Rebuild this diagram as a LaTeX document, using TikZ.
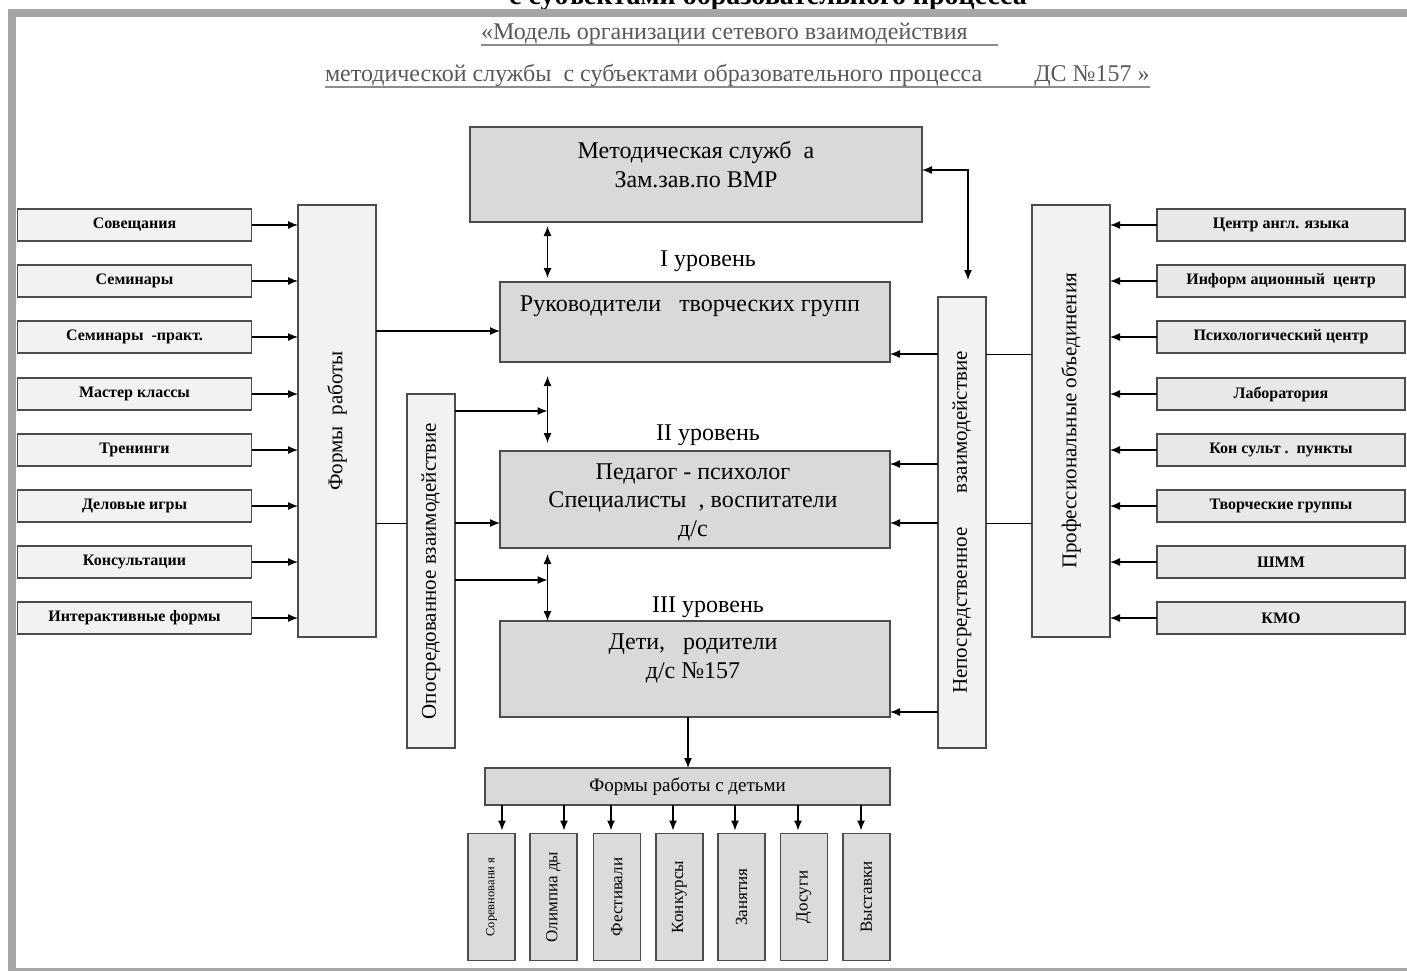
\documentclass[tikz,border=0pt]{standalone}
\usepackage{fontspec}
\setmainfont{Liberation Serif}
\usepackage{graphicx}
\usetikzlibrary{arrows.meta}
\begin{document}
\begin{tikzpicture}[x=1pt, y=-1pt, line width=1.3pt, >={Latex[length=10pt, width=8pt]},
        every node/.style={inner sep=0pt, outer sep=0pt},
        mainbox/.style={draw=black!70, fill=gray!30},
        sidebox/.style={draw=black!70, fill=gray!10, minimum width=234, minimum height=32, font=\fontsize{16}{18}\selectfont\bfseries},
        rightbox/.style={draw=black!70, fill=gray!18, minimum width=248, minimum height=32, font=\fontsize{16}{18}\selectfont\bfseries},
        tallbox/.style={draw=black!70, fill=gray!10, font=\fontsize{21}{24}\selectfont},
        kidbox/.style={draw=black!70, fill=gray!28, minimum width=47, minimum height=127, font=\fontsize{17}{19}\selectfont},
        maintext/.style={align=center, font=\fontsize{24}{29}\selectfont},
        level/.style={font=\fontsize{24}{26}\selectfont},
        header/.style={anchor=base west, text=black!65, font=\fontsize{24}{26}\selectfont},
        uline/.style={draw=black!45, line width=1.6pt}]

        \useasboundingbox (0,0) rectangle (1407,971);

        \node (t0) at (768,5) [anchor=base, font=\fontsize{28}{30}\selectfont\bfseries] {с субъектами образовательного процесса};
        \fill [gray!70] (8,9) rectangle (1407,17);
        \fill [gray!70] (8,9) rectangle (16,971);
        \fill [gray!70] (16,968) rectangle (1407,971);

        \node (h1) at (481,40) [header] {«Модель организации сетевого взаимодействия\hspace*{30pt}};
        \draw [uline] ([yshift=-5pt]h1.base west) -- ([yshift=-5pt]h1.base east);
        \node (h2) at (325,82) [header] {методической службы\ \ с субъектами образовательного процесса\hspace*{52pt}ДС №157 »};
        \draw [uline] ([yshift=-5pt]h2.base west) -- ([yshift=-5pt]h2.base east);

        \node (n1) at (696,174.5) [mainbox, minimum width=452, minimum height=95] {};
        \node (t1) at (696,165) [maintext] {Методическая служб\ \ а\\Зам.зав.по ВМР};

        \node (L1) at (708,261) [level] {I уровень};
        \node (n2) at (695,322) [mainbox, minimum width=390, minimum height=80] {};
        \node (t2) at (690,306) [maintext] {Руководители\ \ \ творческих групп};

        \node (L2) at (708,435) [level] {II уровень};
        \node (n3) at (695,499.5) [mainbox, minimum width=390, minimum height=97] {};
        \node (t3) at (693,502) [maintext, font=\fontsize{24}{28.5}\selectfont] {Педагог - психолог\\Специалисты\ \ , воспитатели\\д/с};

        \node (L3) at (708,607) [level] {III уровень};
        \node (n4) at (695,669) [mainbox, minimum width=390, minimum height=96] {};
        \node (t4) at (693,658.5) [maintext] {Дети,\ \ \ родители\\д/с №157};

        \node (n5) at (687.5,786.5) [mainbox, minimum width=405, minimum height=37, font=\fontsize{19}{21}\selectfont] {Формы работы с детьми};

        \node (f1) at (337,421) [tallbox, minimum width=78, minimum height=432] {\rotatebox{90}{Формы\ \ работы}};
        \node (o1) at (431,571) [tallbox, minimum width=48, minimum height=354] {\rotatebox{90}{Опосредованное взаимодействие}};
        \node (m1) at (962,522.5) [tallbox, minimum width=48, minimum height=451] {\rotatebox{90}{Непосредственное\hspace{34pt}взаимодействие}};
        \node (p1) at (1071,421) [tallbox, minimum width=78, minimum height=432] {\rotatebox{90}{Профессиональные объединения}};

        \node (l1) at (134.5,225) [sidebox] {Совещания};
        \node (l2) at (134.5,281) [sidebox] {Семинары};
        \node (l3) at (134.5,337) [sidebox] {Семинары\ \ -практ.};
        \node (l4) at (134.5,394) [sidebox] {Мастер классы};
        \node (l5) at (134.5,450) [sidebox] {Тренинги};
        \node (l6) at (134.5,506) [sidebox] {Деловые игры};
        \node (l7) at (134.5,562) [sidebox] {Консультации};
        \node (l8) at (134.5,618) [sidebox] {Интерактивные формы};

        \node (r1) at (1281,225) [rightbox] {Центр англ. языка};
        \node (r2) at (1281,281) [rightbox] {Информ ационный\ \ центр};
        \node (r3) at (1281,337) [rightbox] {Психологический центр};
        \node (r4) at (1281,394) [rightbox] {Лаборатория};
        \node (r5) at (1281,450) [rightbox] {Кон сульт .\ \ пункты};
        \node (r6) at (1281,506) [rightbox] {Творческие группы};
        \node (r7) at (1281,562) [rightbox] {ШММ};
        \node (r8) at (1281,618) [rightbox] {КМО};

        \node (b1) at (491.5,897) [kidbox, font=\fontsize{12.5}{14}\selectfont] {\rotatebox{90}{Соревновани я}};
        \node (b2) at (553.5,897) [kidbox] {\rotatebox{90}{Олимпиа ды}};
        \node (b3) at (617,897) [kidbox] {\rotatebox{90}{Фестивали}};
        \node (b4) at (679.5,897) [kidbox] {\rotatebox{90}{Конкурсы}};
        \node (b5) at (741.5,897) [kidbox] {\rotatebox{90}{Занятия}};
        \node (b6) at (804,897) [kidbox] {\rotatebox{90}{Досуги}};
        \node (b7) at (866.5,897) [kidbox] {\rotatebox{90}{Выставки}};

        \coordinate (v1) at (547.5,0);
        \coordinate (c1) at (0,331);
        \coordinate (c2) at (0,523);
        \coordinate (c3) at (0,411);
        \coordinate (c4) at (0,580);
        \coordinate (c5) at (0,354);
        \coordinate (c6) at (0,464);
        \coordinate (c7) at (0,712);
        \coordinate (c8) at (0,170);
        \coordinate (c9) at (968,280);
        \coordinate (c10) at (688,0);

        \draw [->] (l1) -- (f1.west |- l1);
        \draw [->] (l2) -- (f1.west |- l2);
        \draw [->] (l3) -- (f1.west |- l3);
        \draw [->] (l4) -- (f1.west |- l4);
        \draw [->] (l5) -- (f1.west |- l5);
        \draw [->] (l6) -- (f1.west |- l6);
        \draw [->] (l7) -- (f1.west |- l7);
        \draw [->] (l8) -- (f1.west |- l8);

        \draw [->] (r1) -- (p1.east |- r1);
        \draw [->] (r2) -- (p1.east |- r2);
        \draw [->] (r3) -- (p1.east |- r3);
        \draw [->] (r4) -- (p1.east |- r4);
        \draw [->] (r5) -- (p1.east |- r5);
        \draw [->] (r6) -- (p1.east |- r6);
        \draw [->] (r7) -- (p1.east |- r7);
        \draw [->] (r8) -- (p1.east |- r8);

        \draw [->] (f1.east |- c1) -- (n2.west |- c1);
        \draw [line width=0.8pt] (f1.east |- c2) -- (o1.west |- c2);
        \draw [->] (o1.east |- c2) -- (n3.west |- c2);
        \draw [->] (o1.east |- c3) -- (v1 |- c3);
        \draw [->] (o1.east |- c4) -- (v1 |- c4);

        \draw [<->, shorten <=4pt, shorten >=4pt] (n1.south -| v1) -- (n2.north -| v1);
        \draw [<->, shorten <=14pt, shorten >=8pt] (n2.south -| v1) -- (n3.north -| v1);
        \draw [<->, shorten <=6pt] (n3.south -| v1) -- (n4.north -| v1);

        \draw [<->] (n1.east |- c8) -| (c9);
        \draw [line width=0.8pt] (p1.west |- c5) -- (m1.east |- c5);
        \draw [line width=0.8pt] (p1.west |- c2) -- (m1.east |- c2);
        \draw [->] (m1.west |- c5) -- (n2.east |- c5);
        \draw [->] (m1.west |- c6) -- (n3.east |- c6);
        \draw [->] (m1.west |- c2) -- (n3.east |- c2);
        \draw [->] (m1.west |- c7) -- (n4.east |- c7);

        \draw [->] (n4.south -| c10) -- (n5.north -| c10);

        \draw [->, shorten >=3pt] (n5.south -| 502,0) -- (b1.north -| 502,0);
        \draw [->, shorten >=3pt] (n5.south -| 564,0) -- (b2.north -| 564,0);
        \draw [->, shorten >=3pt] (n5.south -| 611,0) -- (b3.north -| 611,0);
        \draw [->, shorten >=3pt] (n5.south -| 673,0) -- (b4.north -| 673,0);
        \draw [->, shorten >=3pt] (n5.south -| 735,0) -- (b5.north -| 735,0);
        \draw [->, shorten >=3pt] (n5.south -| 798,0) -- (b6.north -| 798,0);
        \draw [->, shorten >=3pt] (n5.south -| 861,0) -- (b7.north -| 861,0);

    \end{tikzpicture}
\end{document}
